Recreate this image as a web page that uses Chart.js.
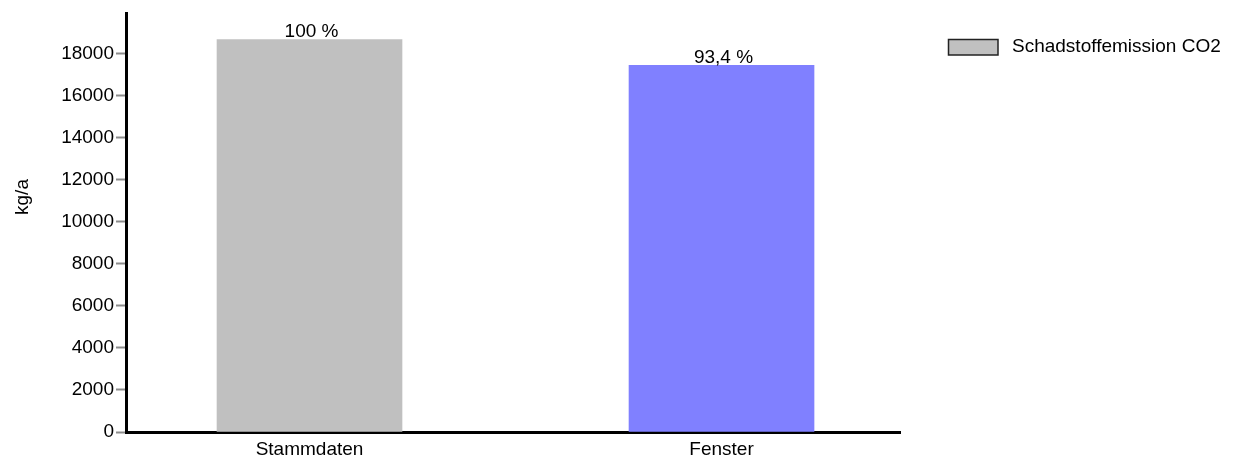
<!DOCTYPE html>
<html>
<head>
<meta charset="utf-8">
<script src="https://cdn.jsdelivr.net/npm/chart.js@4/dist/chart.umd.min.js"></script>
<style>
  html, body { margin: 0; padding: 0; background: #ffffff; }
  canvas { display: block; }
</style>
</head>
<body>
<canvas id="chart" width="1242" height="461"></canvas>
<script>
// Categories and values (kg/a)
const categories = ['Stammdaten', 'Fenster'];
const emissionCO2 = [18660, 17430];
const shareLabels = ['100 %', '93,4 %'];
const yTickValues = [0, 2000, 4000, 6000, 8000, 10000, 12000, 14000, 16000, 18000];
const seriesName = 'Schadstoffemission CO2';
const yAxisTitle = 'kg/a';

const FONT = "'Liberation Sans', Arial, sans-serif";
const FONT_SIZE = 19;
const barColors = ['#c0c0c0', '#8080ff'];

// Percentage labels sitting on top of each bar
const valueLabels = {
  id: 'valueLabels',
  afterDatasetsDraw(chart) {
    const ctx = chart.ctx;
    const meta = chart.getDatasetMeta(0);
    ctx.save();
    ctx.font = FONT_SIZE + 'px ' + FONT;
    ctx.fillStyle = '#000';
    ctx.textAlign = 'center';
    ctx.textBaseline = 'alphabetic';
    meta.data.forEach((bar, i) => {
      ctx.fillText(shareLabels[i], bar.x + 2, bar.y - 2);
    });
    ctx.restore();
  }
};

// Rotated unit label and the single legend entry
const annotations = {
  id: 'annotations',
  afterDraw(chart) {
    const ctx = chart.ctx;
    ctx.save();
    ctx.font = FONT_SIZE + 'px ' + FONT;
    ctx.fillStyle = '#000';

    ctx.save();
    ctx.translate(23, 197);
    ctx.rotate(-Math.PI / 2);
    ctx.textAlign = 'center';
    ctx.textBaseline = 'middle';
    ctx.fillText(yAxisTitle, 0, 0);
    ctx.restore();

    ctx.fillStyle = barColors[0];
    ctx.fillRect(948, 39, 50, 16);
    ctx.strokeStyle = '#222';
    ctx.lineWidth = 1.5;
    ctx.strokeRect(948.5, 39.5, 49.5, 15.5);
    ctx.fillStyle = '#000';
    ctx.textAlign = 'left';
    ctx.textBaseline = 'middle';
    ctx.fillText(seriesName, 1012, 47);
    ctx.restore();
  }
};

new Chart(document.getElementById('chart'), {
  type: 'bar',
  data: {
    datasets: [{
      label: seriesName,
      data: emissionCO2.map((v, i) => ({ x: i, y: v })),
      backgroundColor: barColors,
      borderWidth: 0,
      barThickness: 185
    }]
  },
  options: {
    responsive: false,
    animation: false,
    layout: { padding: { left: 0, top: 12, right: 342, bottom: 0 } },
    plugins: {
      legend: { display: false },
      tooltip: { enabled: false }
    },
    scales: {
      x: {
        type: 'linear',
        min: -0.4454,
        max: 1.4332,
        offset: false,
        grid: { display: false, drawTicks: false, tickLength: 0 },
        border: { display: true, color: '#000', width: 3 },
        afterBuildTicks(scale) {
          scale.ticks = categories.map((_, i) => ({ value: i }));
        },
        afterFit(scale) {
          scale.height = 29;
        },
        ticks: {
          color: '#000',
          font: { family: FONT, size: FONT_SIZE },
          padding: 6,
          maxRotation: 0,
          autoSkip: false,
          callback: (v) => categories[v]
        }
      },
      y: {
        min: 0,
        max: 19900,
        grid: {
          drawOnChartArea: false,
          drawTicks: true,
          tickLength: 10,
          tickColor: '#8c8c8c',
          tickWidth: 2
        },
        border: { display: true, color: '#000', width: 3 },
        afterBuildTicks(scale) {
          scale.ticks = yTickValues.map(v => ({ value: v }));
        },
        afterFit(scale) {
          scale.width = 126;
        },
        ticks: {
          color: '#000',
          font: { family: FONT, size: FONT_SIZE },
          padding: 2,
          callback: (v) => String(v)
        }
      }
    }
  },
  plugins: [valueLabels, annotations]
});
</script>
</body>
</html>
